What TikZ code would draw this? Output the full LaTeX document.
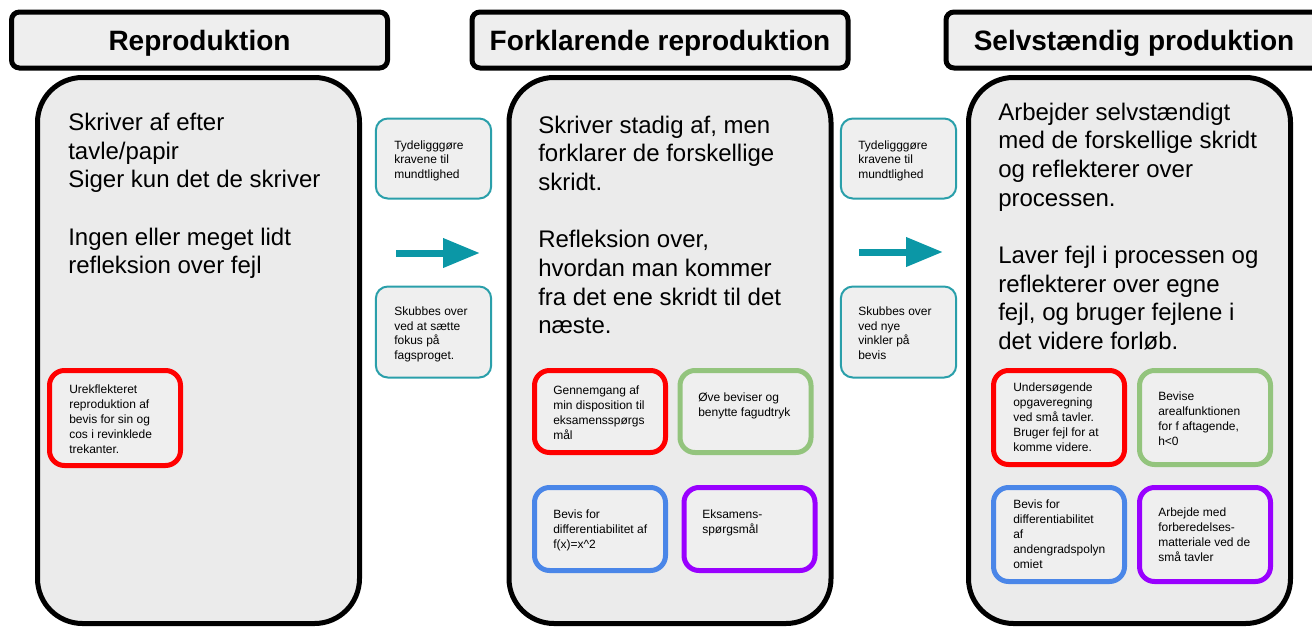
\documentclass[tikz,border=0pt]{standalone}
\usepackage{fontspec}
\setmainfont{Liberation Sans}
\usetikzlibrary{arrows.meta}

\definecolor{panelgray}{HTML}{EBEBEB}
\definecolor{titlegray}{HTML}{EEEEEE}
\definecolor{notegray}{HTML}{EFEFEF}
\definecolor{tealline}{HTML}{2A9FAA}
\definecolor{tealarrow}{HTML}{0B97A6}
\definecolor{taskred}{HTML}{FF0000}
\definecolor{taskgreen}{HTML}{93C47D}
\definecolor{taskblue}{HTML}{4A86E8}
\definecolor{taskpurple}{HTML}{9900FF}

\tikzset{
  titlebox/.style={draw=black, line width=3.75pt, fill=titlegray, rounded corners=6pt,
    minimum width=282pt, minimum height=42pt, inner sep=0pt, text depth=0pt,
    font=\bfseries\fontsize{21}{25}\selectfont},
  panel/.style={draw=black, line width=3.75pt, fill=panelgray, rounded corners=33.75pt,
    minimum width=241.5pt, minimum height=409.5pt, inner sep=0pt},
  notebox/.style={draw=tealline, line width=1.5pt, fill=notegray, rounded corners=9pt,
    minimum width=86.5pt, inner sep=0pt},
  taskbox/.style={line width=3.75pt, fill=notegray, rounded corners=11.25pt,
    minimum width=98.25pt, inner sep=0pt},
  bigtext/.style={anchor=north west, inner sep=0.75pt, align=left,
    font=\fontsize{18}{21.5}\selectfont},
  smalltext/.style={anchor=north west, inner sep=0.75pt, align=left,
    font=\fontsize{9}{11.25}\selectfont},
  notetext/.style={smalltext, font=\fontsize{9}{10.8}\selectfont},
  flowarrow/.style={draw=tealarrow, line width=5.25pt,
    -{Triangle[length=27.75pt, width=21pt]}}
}

\begin{document}
\begin{tikzpicture}[x=0.75pt,y=0.75pt,yscale=-1,xscale=1]
\useasboundingbox (0,0) rectangle (1312,628);
\clip (0,0) rectangle (1312,628);

%Shape: Rounded Rect (panels)
\node [panel] (pan1) at (198.5,350.5) {};
%Shape: Rounded Rect
\node [panel] (pan2) at (670,350.5) {};
%Shape: Rounded Rect
\node [panel] (pan3) at (1129.5,350.5) {};

%Shape: Rounded Rect (titles)
\node [titlebox] (tit1) at (199.5,40) {Reproduktion};
%Shape: Rounded Rect
\node [titlebox] (tit2) at (660,40) {Forklarende reproduktion};
%Shape: Rounded Rect
\node [titlebox] (tit3) at (1134,40) {Selvstændig produktion};

%Shape: Rounded Rect (teal notes)
\node [notebox, minimum height=60pt] (note1a) at (433.5,158.5) {};
\node [notebox, minimum height=68.25pt] (note1b) at (433.5,332) {};
\node [notebox, minimum height=60pt] (note2a) at (898.5,158.5) {};
\node [notebox, minimum height=68.25pt] (note2b) at (898.5,332) {};

%Arrows
\coordinate (arr1s) at (396,253);
\coordinate (arr1e) at (480,253);
\draw [flowarrow] (arr1s) -- (arr1e);
\coordinate (arr2s) at (859,252);
\coordinate (arr2e) at (943,252);
\draw [flowarrow] (arr2s) -- (arr2e);

%Shape: Rounded Rect (tasks)
\node [taskbox, draw=taskred, minimum height=71.25pt] (task1r) at (115,418) {};
\node [taskbox, draw=taskred, minimum height=61.5pt] (task2r) at (600,411.5) {};
\node [taskbox, draw=taskgreen, minimum height=61.5pt] (task2g) at (745.5,411.5) {};
\node [taskbox, draw=taskblue, minimum height=62.25pt] (task2b) at (600,529) {};
\node [taskbox, draw=taskpurple, minimum height=62.25pt] (task2p) at (749.5,529) {};
\node [taskbox, draw=taskred, minimum height=70.5pt] (task3r) at (1059,417.5) {};
\node [taskbox, draw=taskgreen, minimum height=70.5pt] (task3g) at (1205,417.5) {};
\node [taskbox, draw=taskblue, minimum height=70.5pt] (task3b) at (1059,534.5) {};
\node [taskbox, draw=taskpurple, minimum height=70.5pt] (task3p) at (1205,534.5) {};

% Text Node
\node [bigtext] (txt1) at (67,112) {Skriver af efter\\tavle/papir\\Siger kun det de skriver\\[21.5pt]Ingen eller meget lidt\\refleksion over fejl};
% Text Node
\node [bigtext] (txt2) at (537,114.5) {Skriver stadig af, men\\forklarer de forskellige\\skridt.\\[21.5pt]Refleksion over,\\hvordan man kommer\\fra det ene skridt til det\\næste.};
% Text Node
\node [bigtext] (txt3) at (997,101.5) {Arbejder selvstændigt\\med de forskellige skridt\\og reflekterer over\\processen.\\[21.5pt]Laver fejl i processen og\\reflekterer over egne\\fejl, og bruger fejlene i\\det videre forløb.};

% Text Node
\node [notetext] (ntxt1a) at (393,139.5) {Tydeligggøre\\kravene til\\mundtlighed};
% Text Node
\node [notetext] (ntxt1b) at (393,306) {Skubbes over\\ved at sætte\\fokus på\\fagsproget.};
% Text Node
\node [notetext] (ntxt2a) at (857,139.5) {Tydeligggøre\\kravene til\\mundtlighed};
% Text Node
\node [notetext] (ntxt2b) at (857,306) {Skubbes over\\ved nye\\vinkler på\\bevis};

% Text Node
\node [smalltext] (ttxt1r) at (68,384) {Urekflekteret\\reproduktion af\\bevis for sin og\\cos i revinklede\\trekanter.};
% Text Node
\node [smalltext] (ttxt2r) at (552,385) {Gennemgang af\\min disposition til\\eksamensspørgs\\mål};
% Text Node
\node [smalltext] (ttxt2g) at (697,392) {Øve beviser og\\benytte fagudtryk};
% Text Node
\node [smalltext] (ttxt2b) at (552,509) {Bevis for\\differentiabilitet af\\f(x)=x\^{}2};
% Text Node
\node [smalltext] (ttxt2p) at (701,509) {Eksamens-\\spørgsmål};
% Text Node
\node [smalltext] (ttxt3r) at (1012,382) {Undersøgende\\opgaveregning\\ved små tavler.\\Bruger fejl for at\\komme videre.};
% Text Node
\node [smalltext] (ttxt3g) at (1157,391) {Bevise\\arealfunktionen\\for f aftagende,\\h<0};
% Text Node
\node [smalltext] (ttxt3b) at (1012,499) {Bevis for\\differentiabilitet\\af\\andengradspolyn\\omiet};
% Text Node
\node [smalltext] (ttxt3p) at (1157,507) {Arbejde med\\forberedelses-\\matteriale ved de\\små tavler};
\end{tikzpicture}
\end{document}
